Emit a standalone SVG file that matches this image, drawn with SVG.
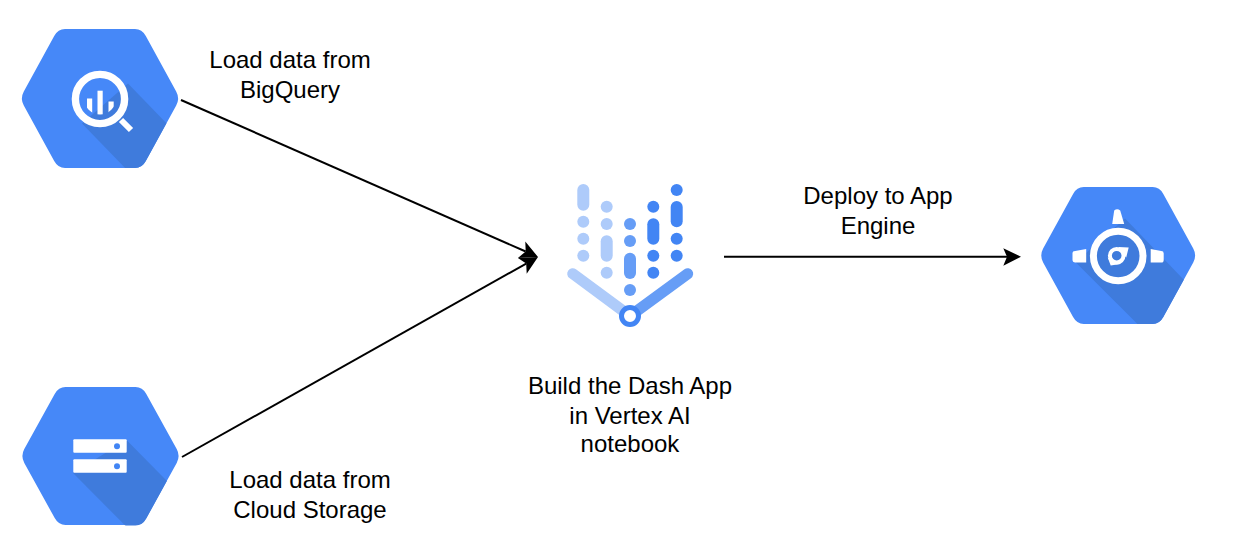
<svg xmlns="http://www.w3.org/2000/svg" width="1238" height="552" viewBox="0 0 1238 552">
<style>
.hex{fill:#4688f8}
.sh{fill:#3f7bdc}
.w{fill:#fff}
.ws{fill:none;stroke:#fff}
.t{font-family:"Liberation Sans",Arial,sans-serif;font-size:24px;fill:#000;text-anchor:middle}
.c{fill:none;stroke:#000;stroke-width:2}
.a{fill:#aecbfa}.b{fill:#669df6}.d{fill:#4285f4}
</style>
<defs>
<path id="hexshape" d="M-35 -69.500H35Q42 -69.500 45.800 -62.500L76.200 -7Q80 0 76.200 7L45.800 62.500Q42 69.500 35 69.500H-35Q-42 69.500 -45.800 62.500L-76.200 7Q-80 0 -76.200 -7L-45.800 -62.500Q-42 -69.500 -35 -69.500Z"/>
<clipPath id="hexclip"><use href="#hexshape"/></clipPath>
<clipPath id="lens"><circle cx="0" cy="0" r="16"/></clipPath>
</defs>
<rect width="1238" height="552" fill="#fff"/>
<g id="connectors">
<path class="c" d="M181 100L525.700 251.500"/>
<path class="c" d="M182 457L526.200 263.600"/>
<path class="c" d="M724 256.800H1008"/>
<path d="M538 257L525.300 241.500L525.700 251.500L517.900 257.900Z"/>
<path d="M538 257L517.900 257.900L526.200 263.600L526.700 273.700Z"/>
<path d="M1021 256.800L1003.300 248.200L1007 256.800L1003.300 265.700Z"/>
</g>
<g id="bigquery" transform="translate(100 98.500)">
<use class="hex" href="#hexshape"/>
<path class="sh" clip-path="url(#hexclip)" d="M28 -15L90 49V90H45L-18 25Z"/>
<circle class="ws" cx="0" cy="0.500" r="24.600" stroke-width="7.400"/>
<path class="ws" d="M21 21.500L31 31.500" stroke-width="6"/>
<g clip-path="url(#lens)" class="w"><rect x="-13" y="0" width="5.200" height="20"/><rect x="-2.500" y="-7.800" width="5.200" height="25"/><rect x="8.500" y="3" width="5.200" height="20"/></g>
</g>
<g id="cloud-storage" transform="translate(100.500 456)">
<use class="hex" href="#hexshape" transform="scale(1 .993)"/>
<path class="sh" clip-path="url(#hexclip)" d="M26 -16L90 49V90H45L-27.500 17Z"/>
<rect class="w" x="-27.200" y="-16.700" width="53.400" height="13.400" rx="1"/>
<rect class="w" x="-27.200" y="3.300" width="53.400" height="13.400" rx="1"/>
<circle class="d" cx="16.500" cy="-9.700" r="3"/>
<circle class="d" cx="16.500" cy="10.300" r="3"/>
</g>
<g id="vertex-ai">
<path d="M572.700 273.700L630 316" fill="none" stroke="#aecbfa" stroke-width="11" stroke-linecap="round"/>
<path d="M687.700 273.700L630 316" fill="none" stroke="#669df6" stroke-width="11" stroke-linecap="round"/>
<g class="a"><rect x="577.300" y="184" width="12" height="26.700" rx="6"/><circle cx="583.300" cy="221.700" r="6"/><circle cx="583.300" cy="238.700" r="6"/><circle cx="583.300" cy="255.700" r="6"/>
<circle cx="606.700" cy="206.700" r="6"/><circle cx="606.700" cy="224" r="6"/><rect x="600.700" y="235.300" width="12" height="26.400" rx="6"/><circle cx="606.700" cy="272.700" r="6"/></g>
<g class="b"><circle cx="630" cy="224" r="6"/><circle cx="630" cy="241" r="6"/><rect x="624" y="252.700" width="12" height="26.300" rx="6"/><circle cx="630" cy="290" r="6"/></g>
<g class="d"><circle cx="653.300" cy="206.700" r="6"/><rect x="647.300" y="218.300" width="12" height="26.400" rx="6"/><circle cx="653.300" cy="255.700" r="6"/><circle cx="653.300" cy="272.700" r="6"/>
<circle cx="676.700" cy="190" r="6"/><rect x="670.700" y="201" width="12" height="26.300" rx="6"/><circle cx="676.700" cy="238.700" r="6"/><circle cx="676.700" cy="255.700" r="6"/></g>
<circle cx="630" cy="316" r="8.500" fill="#fff" stroke="#4285f4" stroke-width="5"/>
</g>
<g id="app-engine" transform="translate(1118.200 255.500)">
<use class="hex" href="#hexshape" transform="scale(.985 .985)"/>
<g transform="scale(.985 .985)"><path class="sh" clip-path="url(#hexclip)" d="M7 -37.500L90 49V90H40L-43 7L-30 -5Z"/></g>
<circle class="ws" cx="0" cy="0.500" r="24.800" stroke-width="7"/>
<circle class="ws" cx="-1.500" cy="0.200" r="6.800" stroke-width="4"/>
<path class="w" d="M0 -8.500L10.500 -8L8 2L4.500 -2Z"/>
<path class="w" d="M-10.500 2L-7.500 10L2 8.500L-5 5Z"/>
<path class="w" d="M-4 -45Q-1 -47.500 2 -45L6 -31.500H-6Z"/>
<path class="w" d="M-45.700 -1.500Q-46 -4.500 -43 -4.500L-32 -6.500V7H-43Q-46 7 -45.700 3.500Z"/>
<path class="w" d="M45.500 -1.500Q45.800 -4.500 43 -4.500L32.500 -6.500V7H43Q45.800 7 45.500 3.500Z"/>
</g>
<g id="labels" class="t">
<text x="290" y="68">Load data from</text><text x="290" y="98">BigQuery</text>
<text x="310" y="488">Load data from</text><text x="310" y="518">Cloud Storage</text>
<text x="630" y="394">Build the Dash App</text><text x="630" y="424">in Vertex AI</text><text x="630" y="452">notebook</text>
<text x="878" y="204">Deploy to App</text><text x="878" y="234">Engine</text>
</g>
</svg>
